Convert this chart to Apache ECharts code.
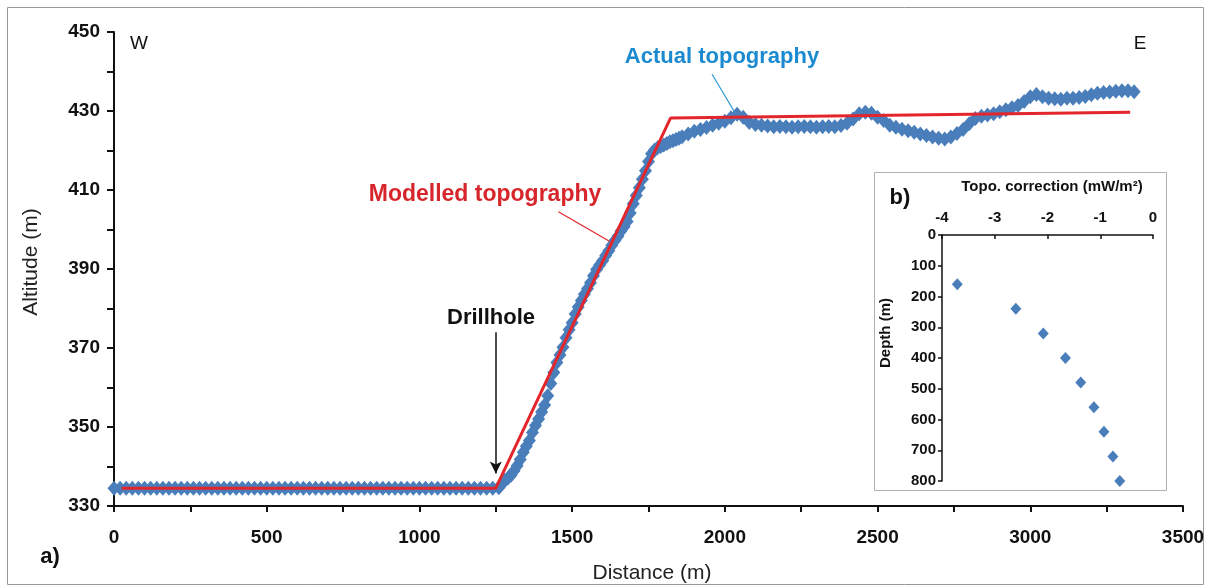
<!DOCTYPE html>
<html>
<head>
<meta charset="utf-8">
<style>
  html, body { margin: 0; padding: 0; background: #fff; }
  #chart { width: 1211px; height: 588px; }
</style>
<script src="https://cdn.jsdelivr.net/npm/echarts@6/dist/echarts.min.js"></script>
</head>
<body>
<div id="chart"></div>
<script>
// Surveyed topography along the W-E section, in three stretches.
// Valley floor: 0-1240 m, every 20 m
const floorStart = 0, floorStep = 20;
const floorAltitude = [
  334.5, 334.5, 334.5, 334.5, 334.5, 334.5, 334.5, 334.5, 334.5, 334.5,
  334.5, 334.5, 334.5, 334.5, 334.5, 334.5, 334.5, 334.5, 334.5, 334.5,
  334.5, 334.5, 334.5, 334.5, 334.5, 334.5, 334.5, 334.5, 334.5, 334.5,
  334.5, 334.5, 334.5, 334.5, 334.5, 334.5, 334.5, 334.5, 334.5, 334.5,
  334.5, 334.5, 334.5, 334.5, 334.5, 334.5, 334.5, 334.5, 334.5, 334.5,
  334.5, 334.5, 334.5, 334.5, 334.5, 334.5, 334.5, 334.5, 334.5, 334.5,
  334.5, 334.5, 334.5
];
// Escarpment: 1260-1860 m, every 10 m
const slopeStart = 1260, slopeStep = 10;
const slopeAltitude = [
  334.6, 335.6, 336.5, 337.1, 337.8, 338.9, 340.2, 341.8, 343.6, 345.1,
  346.6, 348.6, 350.4, 352.0, 353.8, 355.6, 357.9, 361.0, 363.8, 366.3,
  368.2, 370.2, 372.6, 374.6, 376.4, 378.6, 380.4, 382.0, 383.6, 385.0,
  386.5, 388.3, 389.9, 391.0, 392.1, 393.4, 394.6, 396.0, 397.2, 398.3,
  399.6, 400.7, 402.0, 404.2, 406.5, 408.6, 410.6, 412.7, 414.9, 417.2,
  419.2, 420.1, 420.7, 421.0, 421.4, 421.8, 422.2, 422.5, 422.8, 423.1,
  423.5
];
// Plateau: 1880-3340 m, every 20 m
const plateauStart = 1880, plateauStep = 20;
const plateauAltitude = [
  424.2, 424.9, 425.3, 425.8, 426.4, 426.9, 427.4, 428.3, 429.2, 428.4,
  427.1, 426.6, 426.4, 426.2, 426.0, 426.1, 426.0, 425.9, 426.0, 426.1,
  426.0, 425.9, 426.0, 426.1, 426.0, 426.3, 426.9, 428.0, 429.3, 429.7,
  429.4, 428.4, 427.6, 426.4, 425.9, 425.4, 425.0, 424.6, 424.2, 423.8,
  423.4, 423.1, 422.9, 423.4, 424.3, 425.3, 426.8, 428.1, 428.7, 429.0,
  429.3, 429.8, 430.3, 430.8, 431.4, 432.4, 433.6, 434.2, 433.6, 433.2,
  433.1, 433.0, 433.2, 433.2, 433.4, 433.7, 434.1, 434.5, 434.7, 434.8,
  435.0, 435.1, 435.1, 434.9
];

// Simplified (modelled) topography vertices
const modelDistance = [25, 1250, 1822, 3327];
const modelAltitude = [334.5, 334.5, 428.2, 429.7];

// Inset b): topographic correction vs depth
const correction = [-3.71, -2.60, -2.08, -1.66, -1.37, -1.12, -0.93, -0.76, -0.63];
const depth = [160, 240, 320, 400, 480, 560, 640, 720, 800];

// Axis ticks
const distanceTicks = [0, 500, 1000, 1500, 2000, 2500, 3000, 3500];
const altitudeTicks = [330, 350, 370, 390, 410, 430, 450];

const drillholeDistance = 1250;

function stretch(start, step, values) {
  return values.map((v, i) => [start + i * step, v]);
}
const actualPoints = [].concat(
  stretch(floorStart, floorStep, floorAltitude),
  stretch(slopeStart, slopeStep, slopeAltitude),
  stretch(plateauStart, plateauStep, plateauAltitude)
);

const BLUE = '#4a7ebb';
const RED = '#e3262b';
const FONT = '"Liberation Sans", Arial, sans-serif';

const chart = echarts.init(document.getElementById('chart'), null, { renderer: 'canvas' });

const axisBase = {
  axisLine: { show: true, onZero: false, lineStyle: { color: '#111', width: 2 } },
  splitLine: { show: false },
};

chart.setOption({
  animation: false,
  backgroundColor: '#fff',
  grid: [
    { left: 114, top: 32, right: 28, bottom: 82, containLabel: false },
    { left: 942, top: 235, width: 211, height: 246, containLabel: false }
  ],
  xAxis: [
    Object.assign({}, axisBase, {
      gridIndex: 0, type: 'value', min: 0, max: 3500, interval: 250,
      axisTick: { show: true, inside: false, length: 6, lineStyle: { color: '#111', width: 2 } },
      axisLabel: {
        margin: 22, color: '#111', fontFamily: FONT, fontWeight: 'bold', fontSize: 19,
        formatter: v => distanceTicks.includes(v) ? String(v) : ''
      }
    }),
    Object.assign({}, axisBase, {
      gridIndex: 1, type: 'value', position: 'top', min: -4, max: 0, interval: 1,
      axisLine: { show: true, onZero: false, lineStyle: { color: '#111', width: 1.5 } },
      axisTick: { show: true, inside: true, length: 4, lineStyle: { color: '#111', width: 1.5 } },
      axisLabel: { margin: 10, color: '#111', fontFamily: FONT, fontWeight: 'bold', fontSize: 15 }
    })
  ],
  yAxis: [
    Object.assign({}, axisBase, {
      gridIndex: 0, type: 'value', min: 330, max: 450, interval: 10,
      axisTick: { show: true, inside: false, length: 7, lineStyle: { color: '#111', width: 2 } },
      axisLabel: {
        margin: 14, color: '#111', fontFamily: FONT, fontWeight: 'bold', fontSize: 19,
        formatter: v => altitudeTicks.includes(v) ? String(v) : ''
      }
    }),
    Object.assign({}, axisBase, {
      gridIndex: 1, type: 'value', inverse: true, min: 0, max: 800, interval: 100,
      axisLine: { show: true, onZero: false, lineStyle: { color: '#111', width: 1.5 } },
      axisTick: { show: true, inside: false, length: 4, lineStyle: { color: '#111', width: 1.5 } },
      axisLabel: { margin: 6, color: '#111', fontFamily: FONT, fontWeight: 'bold', fontSize: 15 }
    })
  ],
  series: [
    {
      name: 'Actual topography',
      type: 'scatter', xAxisIndex: 0, yAxisIndex: 0, clip: false, z: 3,
      symbol: 'diamond', symbolSize: [13, 15],
      itemStyle: { color: BLUE, opacity: 1 },
      data: actualPoints
    },
    {
      name: 'Modelled topography',
      type: 'line', xAxisIndex: 0, yAxisIndex: 0, z: 4,
      symbol: 'none', lineStyle: { color: RED, width: 3 },
      data: modelDistance.map((d, i) => [d, modelAltitude[i]])
    },
    {
      // leader lines and drillhole arrow
      type: 'line', xAxisIndex: 0, yAxisIndex: 0, z: 5, data: [],
      markLine: {
        silent: true, animation: false,
        label: { show: false },
        data: [
          [
            { coord: [1455, 404.5], symbol: 'none', lineStyle: { color: RED, width: 1.2, type: 'solid' } },
            { coord: [1622, 397.0], symbol: 'none' }
          ],
          [
            { coord: [1958, 439.3], symbol: 'none', lineStyle: { color: '#2a96d4', width: 1.2, type: 'solid' } },
            { coord: [2030, 430.0], symbol: 'none' }
          ],
          [
            { coord: [drillholeDistance, 374], symbol: 'none', lineStyle: { color: '#111', width: 1.5, type: 'solid' } },
            { coord: [drillholeDistance, 338.2], symbol: 'arrow', symbolSize: [9, 12] }
          ]
        ]
      }
    },
    {
      name: 'Topo. correction',
      type: 'scatter', xAxisIndex: 1, yAxisIndex: 1, z: 12,
      symbol: 'diamond', symbolSize: [11, 12],
      itemStyle: { color: BLUE, opacity: 1 },
      data: correction.map((c, i) => [c, depth[i]])
    }
  ],
  graphic: [
    { type: 'rect', z: -10, silent: true, shape: { x: 7.5, y: 7.5, width: 1196, height: 577 },
      style: { fill: 'none', stroke: '#9a9a9a', lineWidth: 1 } },
    { type: 'rect', z: -5, silent: true, shape: { x: 874.5, y: 172.5, width: 292, height: 318 },
      style: { fill: '#fff', stroke: '#b0b0b0', lineWidth: 1 } },
    { type: 'text', z: 20, x: 139, y: 44, style: { text: 'W', font: '19px ' + FONT, fill: '#111', align: 'center', verticalAlign: 'middle' } },
    { type: 'text', z: 20, x: 1140, y: 44, style: { text: 'E', font: '19px ' + FONT, fill: '#111', align: 'center', verticalAlign: 'middle' } },
    { type: 'text', z: 20, x: 50, y: 557, style: { text: 'a)', font: 'bold 22px ' + FONT, fill: '#111', align: 'center', verticalAlign: 'middle' } },
    { type: 'text', z: 20, x: 652, y: 573, style: { text: 'Distance (m)', font: '21px ' + FONT, fill: '#222', align: 'center', verticalAlign: 'middle' } },
    { type: 'text', z: 20, x: 31, y: 262, rotation: Math.PI / 2,
      style: { text: 'Altitude (m)', font: '21px ' + FONT, fill: '#222', align: 'center', verticalAlign: 'middle' } },
    { type: 'text', z: 20, x: 485, y: 195, style: { text: 'Modelled topography', font: 'bold 23px ' + FONT, fill: '#d7262b', align: 'center', verticalAlign: 'middle' } },
    { type: 'text', z: 20, x: 722, y: 57, style: { text: 'Actual topography', font: 'bold 22px ' + FONT, fill: '#1b8ad0', align: 'center', verticalAlign: 'middle' } },
    { type: 'text', z: 20, x: 491, y: 318, style: { text: 'Drillhole', font: 'bold 22px ' + FONT, fill: '#111', align: 'center', verticalAlign: 'middle' } },
    { type: 'text', z: 20, x: 900, y: 198, style: { text: 'b)', font: 'bold 22px ' + FONT, fill: '#111', align: 'center', verticalAlign: 'middle' } },
    { type: 'text', z: 20, x: 1052, y: 187, style: { text: 'Topo. correction (mW/m²)', font: 'bold 15px ' + FONT, fill: '#111', align: 'center', verticalAlign: 'middle' } },
    { type: 'text', z: 20, x: 886, y: 333, rotation: Math.PI / 2,
      style: { text: 'Depth (m)', font: 'bold 15px ' + FONT, fill: '#111', align: 'center', verticalAlign: 'middle' } }
  ]
});
</script>
</body>
</html>
